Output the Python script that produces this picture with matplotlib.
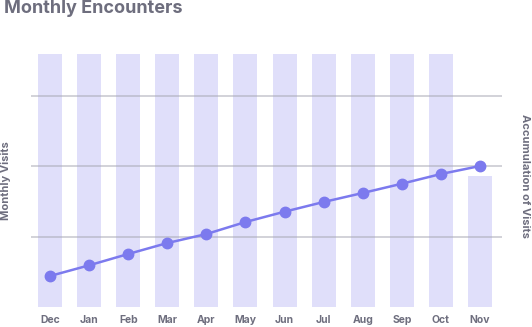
import numpy as np
import matplotlib
matplotlib.use("Agg")
import matplotlib.pyplot as plt

months = ["Dec", "Jan", "Feb", "Mar", "Apr", "May", "Jun",
          "Jul", "Aug", "Sep", "Oct", "Nov"]
monthly_visits = [360, 360, 360, 360, 360, 360, 360, 360, 360, 360, 360, 186]
accumulated = [441, 593, 754, 910, 1038, 1209, 1356, 1494, 1622, 1754, 1892, 2006]

BAR_COLOR = "#e0dffa"
LINE_COLOR = "#7c7aee"
TEXT_COLOR = "#6e6e7e"
GRID_COLOR = "#a8a8b4"

plt.rcParams['font.family'] = ['Inter', 'DejaVu Sans']

fig = plt.figure(figsize=(5.32, 3.27), dpi=100)
ax = fig.add_axes([0.0583, 0.0612, 0.8853, 0.7737])
ax2 = ax.twinx()

x = np.arange(len(months))
ax.bar(x, monthly_visits, width=0.614, color=BAR_COLOR, zorder=1)
ax.set_ylim(0, 360)
ax.set_xlim(-0.486, 11.563)
for g in (100, 200, 300):
    ax.axhline(g, color=GRID_COLOR, lw=1.2, alpha=0.6, zorder=2)

ax2.plot(x, accumulated, color=LINE_COLOR, lw=1.8, marker='o',
         markersize=7.5, zorder=3)
ax2.set_ylim(0, 3600)

for a in (ax, ax2):
    for s in a.spines.values():
        s.set_visible(False)
    a.set_yticks([])
ax.set_xticks(x)
ax.set_xticklabels(months, fontsize=7.5, fontweight='bold', color=TEXT_COLOR)
ax.tick_params(axis='x', length=0, pad=5.5)

fig.text(6 / 532, 1 - 181 / 327, "Monthly Visits", rotation=90, ha='center',
         va='center', fontsize=8, fontweight='bold', color=TEXT_COLOR)
fig.text(525 / 532, 1 - 176 / 327, "Accumulation of Visits", rotation=270,
         ha='center', va='center', fontsize=8, fontweight='bold', color=TEXT_COLOR)
fig.text(4 / 532, 1 - 0 / 327, "Monthly Encounters", ha='left', va='top',
         fontsize=13, fontweight='bold', color=TEXT_COLOR)

fig.savefig("out.png", dpi=100)
